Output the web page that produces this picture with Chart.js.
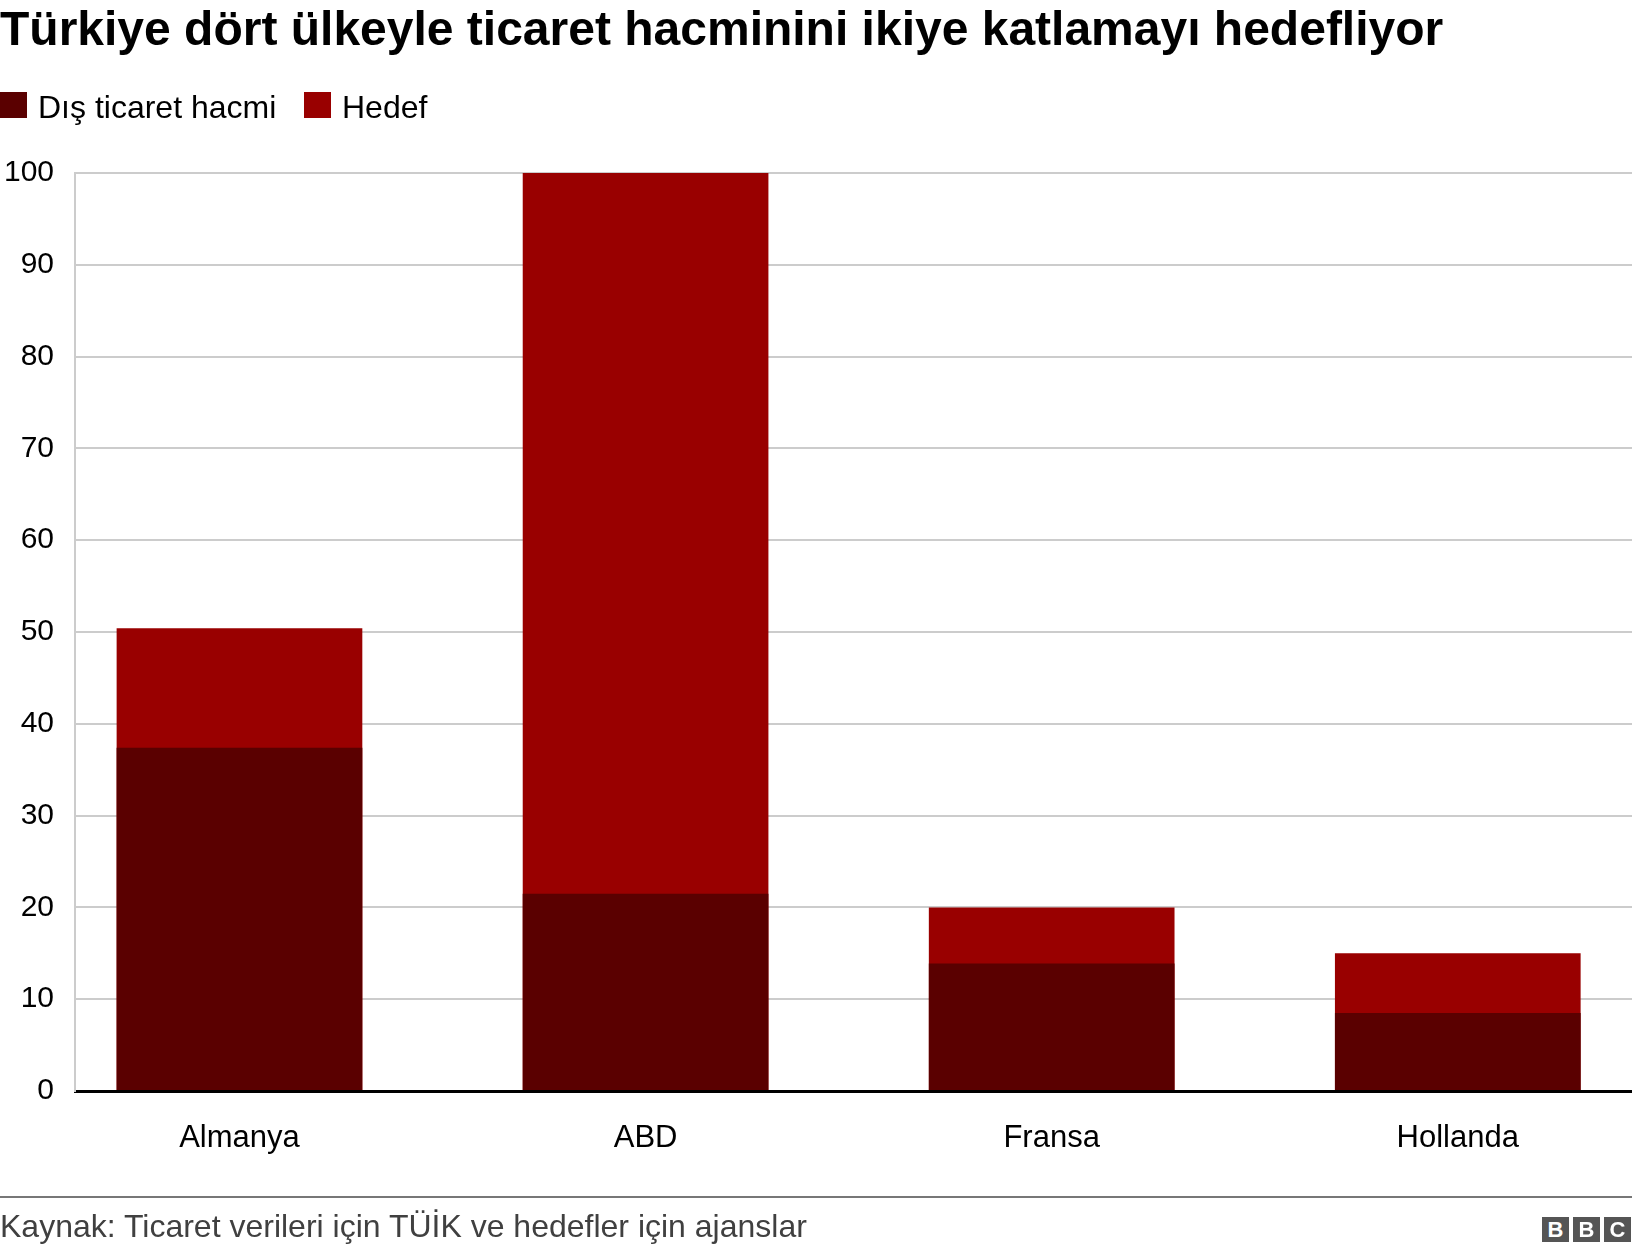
<!DOCTYPE html>
<html>
<head>
<meta charset="utf-8">
<script src="https://cdn.jsdelivr.net/npm/chart.js@4/dist/chart.umd.min.js"></script>
<style>
  html, body { margin: 0; padding: 0; background: #fff; overflow: hidden; }
  body { width: 1632px; height: 1252px; position: relative; font-family: "Liberation Sans", Arial, sans-serif; }
  #wrap { position: absolute; left: 0; top: 0; width: 1632px; height: 1252px; }
  .txt { position: absolute; white-space: nowrap; line-height: 1; }
  #title { left: 0; top: 5px; font-size: 48px; font-weight: bold; color: #000; }
  .sw { position: absolute; width: 27px; height: 26px; top: 92px; }
  .lg { top: 91px; font-size: 32px; color: #000; }
  #rule { position: absolute; left: 0; top: 1196px; width: 1632px; height: 2px; background: #777; }
  #src { left: 0; top: 1210px; font-size: 32px; color: #404040; }
  .bbc { position: absolute; top: 1217px; width: 27px; height: 25px; background: #555; color: #fff;
         font: bold 22px "Liberation Sans", Arial, sans-serif; text-align: center; line-height: 25px; }
</style>
</head>
<body>
<div id="wrap"><canvas id="tradeCanvas" width="1632" height="1252"></canvas></div>
<div id="title" class="txt">Türkiye dört ülkeyle ticaret hacminini ikiye katlamayı hedefliyor</div>
<div class="sw" style="left:0;background:#5a0000"></div>
<div class="txt lg" style="left:38px">Dış ticaret hacmi</div>
<div class="sw" style="left:304px;background:#990000"></div>
<div class="txt lg" style="left:342px">Hedef</div>
<div id="rule"></div>
<div id="src" class="txt">Kaynak: Ticaret verileri için TÜİK ve hedefler için ajanslar</div>
<div class="bbc" style="left:1542px">B</div>
<div class="bbc" style="left:1573px">B</div>
<div class="bbc" style="left:1604px">C</div>
<script>
// ülkeler ve değerler (milyar dolar)
var categories = ["Almanya", "ABD", "Fransa", "Hollanda"];
var disTicaret = [37.4, 21.5, 13.9, 8.5];
var hedef = [50.4, 100, 20, 15];
var yTicks = [0, 10, 20, 30, 40, 50, 60, 70, 80, 90, 100];

function toPoints(values) {
  var pts = [];
  for (var i = 0; i < values.length; i++) pts.push({x: i, y: values[i]});
  return pts;
}

var fontFamily = "'Liberation Sans', Arial, sans-serif";

var ctx = document.getElementById("tradeCanvas").getContext("2d");
var chart = new Chart(ctx, {
  type: "bar",
  data: {
    datasets: [{
        label: "Dış ticaret hacmi",
        backgroundColor: "#5a0000",
        data: toPoints(disTicaret)
      }, {
        label: "Hedef",
        backgroundColor: "#990000",
        data: toPoints(hedef)
      }]
  },
  options: {
    responsive: false,
    animation: false,
    events: [],
    barPercentage: 0.605,
    categoryPercentage: 1,
    layout: {padding: {top: 173, left: 0, right: 0, bottom: 0}},
    plugins: {legend: {display: false}, tooltip: {enabled: false}},
    scales: {
      x: {
        type: "linear",
        stacked: true,
        offset: false,
        min: -0.405,
        max: 3.429,
        z: 1,
        grid: {display: false, offset: false},
        border: {display: true, color: "#000", width: 3},
        afterBuildTicks: function(scale) {
          scale.ticks = categories.map(function(c, i) { return {value: i}; });
        },
        afterFit: function(scale) { scale.height = 161; },
        ticks: {
          color: "#000",
          font: {family: fontFamily, size: 31},
          padding: 21,
          maxRotation: 0,
          autoSkip: false,
          callback: function(v) { return categories[v]; }
        }
      },
      y: {
        min: 0,
        max: 100,
        afterBuildTicks: function(scale) {
          scale.ticks = yTicks.map(function(v) { return {value: v}; });
        },
        afterFit: function(scale) { scale.width = 75; },
        grid: {color: "#cccccc", lineWidth: 2, drawTicks: false},
        border: {display: true, color: "#cccccc", width: 2},
        ticks: {color: "#000", font: {family: fontFamily, size: 30}, padding: 21}
      }
    }
  }
});
</script>
</body>
</html>
